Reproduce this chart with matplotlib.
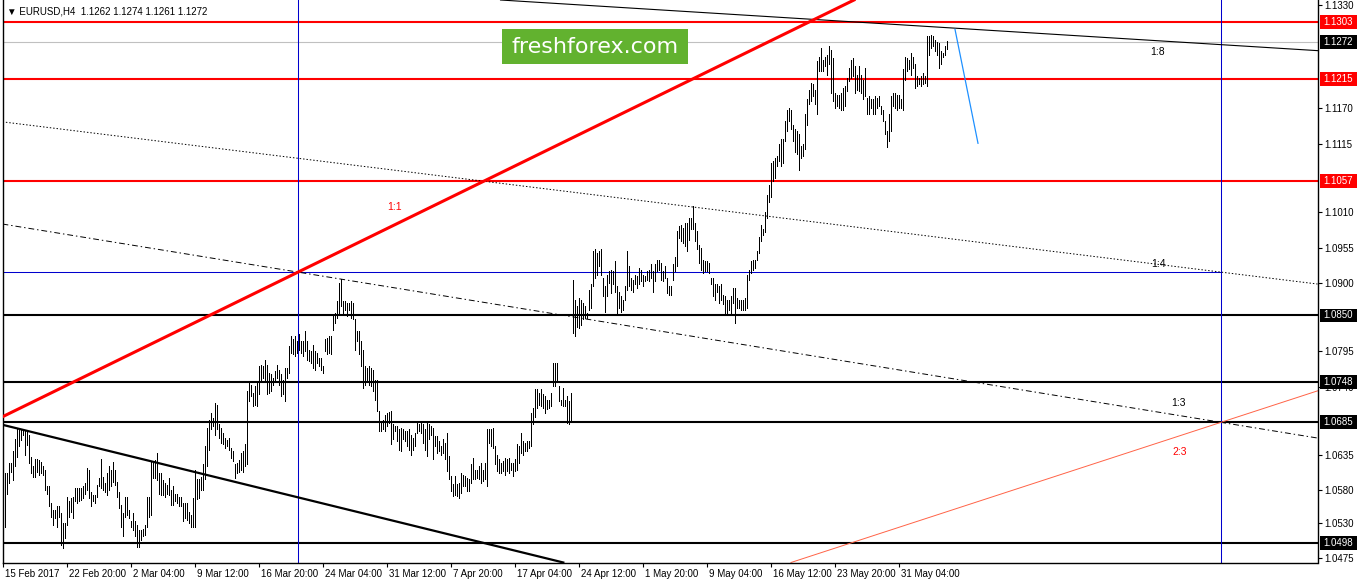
import matplotlib
matplotlib.use("Agg")
import numpy as np
import matplotlib.pyplot as plt
import matplotlib.transforms as mtransforms
from matplotlib.patches import Rectangle

plt.rcParams['font.family'] = ['Liberation Sans', 'DejaVu Sans']

# ─── DATA ─────────────────────────────────────────────────────────────────────
# EURUSD H4 bar highs / lows (one value per bar)
highs = [
    1.0560, 1.0606, 1.0606, 1.0622, 1.0622, 1.0640, 1.0660, 1.0676, 1.0673, 1.0673,
    1.0673, 1.0671, 1.0673, 1.0666, 1.0632, 1.0617, 1.0629, 1.0629, 1.0627, 1.0624,
    1.0617, 1.0611, 1.0586, 1.0586, 1.0560, 1.0550, 1.0550, 1.0555, 1.0555, 1.0545,
    1.0529, 1.0529, 1.0570, 1.0563, 1.0568, 1.0570, 1.0583, 1.0583, 1.0583, 1.0583,
    1.0586, 1.0591, 1.0614, 1.0611, 1.0578, 1.0573, 1.0573, 1.0588, 1.0599, 1.0629,
    1.0601, 1.0591, 1.0606, 1.0617, 1.0611, 1.0624, 1.0611, 1.0593, 1.0578, 1.0557,
    1.0545, 1.0570, 1.0570, 1.0550, 1.0532, 1.0545, 1.0532, 1.0527, 1.0519, 1.0519,
    1.0521, 1.0527, 1.0570, 1.0570, 1.0624, 1.0622, 1.0627, 1.0637, 1.0606, 1.0606,
    1.0596, 1.0591, 1.0588, 1.0599, 1.0581, 1.0586, 1.0575, 1.0575, 1.0570, 1.0570,
    1.0560, 1.0560, 1.0560, 1.0547, 1.0542, 1.0568,
    1.0612, 1.0597, 1.0597, 1.0601, 1.0620, 1.0648, 1.0676, 1.0689, 1.0699, 1.0692,
    1.0715, 1.0712, 1.0682, 1.0676, 1.0669, 1.0661, 1.0658, 1.0661, 1.0645, 1.0640,
    1.0620, 1.0622, 1.0627, 1.0638, 1.0640, 1.0651, 1.0733, 1.0746, 1.0743, 1.0730,
    1.0741, 1.0746, 1.0772, 1.0774, 1.0772, 1.0782, 1.0774, 1.0761, 1.0759, 1.0754,
    1.0764, 1.0774, 1.0766, 1.0759, 1.0751, 1.0769, 1.0769, 1.0803, 1.0818, 1.0813,
    1.0818, 1.0810, 1.0821, 1.0810, 1.0810, 1.0826, 1.0810, 1.0797, 1.0795, 1.0805,
    1.0795, 1.0792, 1.0785, 1.0785, 1.0772, 1.0813, 1.0815, 1.0818, 1.0818, 1.0849,
    1.0854, 1.0872, 1.0900, 1.0906, 1.0872, 1.0872, 1.0870, 1.0870, 1.0872, 1.0870,
    1.0844, 1.0826, 1.0826, 1.0810, 1.0797, 1.0772, 1.0769, 1.0772, 1.0769, 1.0766,
    1.0751, 1.0751, 1.0702, 1.0687, 1.0689,
    1.0697, 1.0700, 1.0701, 1.0702, 1.0682, 1.0679, 1.0679, 1.0674, 1.0676, 1.0674,
    1.0671, 1.0671, 1.0674, 1.0666, 1.0661, 1.0669, 1.0684, 1.0682, 1.0687, 1.0682,
    1.0674, 1.0684, 1.0682, 1.0679, 1.0676, 1.0664, 1.0664, 1.0656, 1.0648, 1.0659,
    1.0653, 1.0669, 1.0633, 1.0602, 1.0589, 1.0602, 1.0589, 1.0592, 1.0607, 1.0604,
    1.0602, 1.0599, 1.0597, 1.0620, 1.0630, 1.0612, 1.0612, 1.0617, 1.0622, 1.0612,
    1.0622, 1.0674, 1.0674, 1.0674, 1.0676, 1.0648, 1.0635, 1.0628, 1.0622, 1.0625,
    1.0630, 1.0628, 1.0630, 1.0622, 1.0622, 1.0628, 1.0651, 1.0648, 1.0669, 1.0656,
    1.0653, 1.0656, 1.0656, 1.0700, 1.0707, 1.0736, 1.0736, 1.0731, 1.0736, 1.0728,
    1.0725, 1.0720, 1.0720, 1.0731, 1.0777, 1.0777, 1.0777, 1.0741, 1.0720, 1.0738,
    1.0720, 1.0725, 1.0718, 1.0731, 1.0905,
    1.0874, 1.0864, 1.0877, 1.0874, 1.0869, 1.0864, 1.0854, 1.0890, 1.0898, 1.0949,
    1.0952, 1.0947, 1.0949, 1.0952, 1.0908, 1.0895, 1.0913, 1.0918, 1.0921, 1.0918,
    1.0934, 1.0895, 1.0887, 1.0880, 1.0874, 1.0895, 1.0949, 1.0926, 1.0908, 1.0905,
    1.0913, 1.0911, 1.0923, 1.0921, 1.0913, 1.0911, 1.0918, 1.0921, 1.0929, 1.0918,
    1.0929, 1.0936, 1.0936, 1.0931, 1.0918, 1.0926, 1.0908, 1.0895, 1.0895, 1.0929,
    1.0941, 1.0980, 1.0988, 1.0990, 1.0985, 1.0993, 1.0993, 1.1001, 1.1001, 1.1019,
    1.0993, 1.0980, 1.0959, 1.0954, 1.0936, 1.0934, 1.0934, 1.0931, 1.0908, 1.0908,
    1.0898, 1.0898, 1.0895, 1.0898, 1.0882, 1.0880, 1.0874, 1.0874, 1.0880, 1.0893,
    1.0893, 1.0877, 1.0874, 1.0874, 1.0874, 1.0877, 1.0913, 1.0921, 1.0934, 1.0936,
    1.0936, 1.0949, 1.0972, 1.0990, 1.0983,
    1.1010, 1.1036, 1.1051, 1.1086, 1.1089, 1.1094, 1.1097, 1.1115, 1.1122, 1.1122,
    1.1150, 1.1168, 1.1170, 1.1168, 1.1145, 1.1138, 1.1135, 1.1130, 1.1112, 1.1115,
    1.1161, 1.1184, 1.1199, 1.1209, 1.1207, 1.1199, 1.1243, 1.1250, 1.1263, 1.1245,
    1.1250, 1.1253, 1.1266, 1.1260, 1.1248, 1.1194, 1.1191, 1.1191, 1.1194, 1.1202,
    1.1204, 1.1217, 1.1232, 1.1245, 1.1248, 1.1235, 1.1222, 1.1235, 1.1222, 1.1214,
    1.1232, 1.1186, 1.1189, 1.1184, 1.1184, 1.1189, 1.1186, 1.1189, 1.1174, 1.1168,
    1.1150, 1.1135, 1.1161, 1.1189, 1.1194, 1.1194, 1.1191, 1.1191, 1.1184, 1.1230,
    1.1250, 1.1248, 1.1245, 1.1255, 1.1250, 1.1238, 1.1220, 1.1217, 1.1220, 1.1225,
    1.1220, 1.1281, 1.1281, 1.1284, 1.1281, 1.1276, 1.1273, 1.1271, 1.1258, 1.1255,
    1.1266, 1.1274,
]
lows = [
    1.0516, 1.0524, 1.0575, 1.0591, 1.0609, 1.0596, 1.0617, 1.0632, 1.0648, 1.0658,
    1.0666, 1.0635, 1.0650, 1.0622, 1.0606, 1.0601, 1.0601, 1.0609, 1.0604, 1.0606,
    1.0604, 1.0581, 1.0575, 1.0555, 1.0539, 1.0527, 1.0537, 1.0524, 1.0539, 1.0496,
    1.0491, 1.0506, 1.0527, 1.0539, 1.0547, 1.0537, 1.0563, 1.0560, 1.0563, 1.0565,
    1.0568, 1.0575, 1.0581, 1.0568, 1.0555, 1.0563, 1.0560, 1.0570, 1.0586, 1.0583,
    1.0581, 1.0578, 1.0573, 1.0581, 1.0586, 1.0593, 1.0588, 1.0570, 1.0552, 1.0524,
    1.0509, 1.0539, 1.0542, 1.0537, 1.0524, 1.0519, 1.0509, 1.0493, 1.0493, 1.0503,
    1.0509, 1.0511, 1.0524, 1.0539, 1.0542, 1.0599, 1.0599, 1.0596, 1.0575, 1.0573,
    1.0573, 1.0570, 1.0575, 1.0573, 1.0557, 1.0557, 1.0563, 1.0560, 1.0555, 1.0555,
    1.0532, 1.0537, 1.0534, 1.0529, 1.0524, 1.0524,
    1.0524, 1.0566, 1.0568, 1.0581, 1.0581, 1.0597, 1.0617, 1.0643, 1.0674, 1.0679,
    1.0666, 1.0674, 1.0661, 1.0653, 1.0651, 1.0645, 1.0648, 1.0643, 1.0630, 1.0625,
    1.0599, 1.0607, 1.0609, 1.0612, 1.0609, 1.0617, 1.0620, 1.0718, 1.0725, 1.0710,
    1.0712, 1.0710, 1.0728, 1.0748, 1.0754, 1.0751, 1.0728, 1.0730, 1.0733, 1.0743,
    1.0748, 1.0754, 1.0743, 1.0725, 1.0728, 1.0718, 1.0754, 1.0761, 1.0792, 1.0790,
    1.0787, 1.0792, 1.0797, 1.0792, 1.0787, 1.0795, 1.0782, 1.0779, 1.0777, 1.0769,
    1.0766, 1.0777, 1.0772, 1.0766, 1.0761, 1.0795, 1.0790, 1.0792, 1.0790, 1.0828,
    1.0839, 1.0846, 1.0851, 1.0864, 1.0854, 1.0859, 1.0849, 1.0859, 1.0846, 1.0844,
    1.0797, 1.0810, 1.0790, 1.0772, 1.0738, 1.0743, 1.0748, 1.0743, 1.0741, 1.0733,
    1.0720, 1.0702, 1.0671, 1.0671, 1.0674,
    1.0671, 1.0679, 1.0684, 1.0651, 1.0659, 1.0671, 1.0656, 1.0643, 1.0640, 1.0659,
    1.0656, 1.0648, 1.0643, 1.0635, 1.0643, 1.0648, 1.0669, 1.0671, 1.0669, 1.0653,
    1.0643, 1.0633, 1.0659, 1.0666, 1.0628, 1.0648, 1.0638, 1.0640, 1.0635, 1.0638,
    1.0628, 1.0610, 1.0597, 1.0579, 1.0571, 1.0573, 1.0571, 1.0568, 1.0576, 1.0586,
    1.0586, 1.0579, 1.0579, 1.0592, 1.0597, 1.0597, 1.0599, 1.0597, 1.0592, 1.0594,
    1.0597, 1.0586, 1.0653, 1.0648, 1.0646, 1.0620, 1.0610, 1.0607, 1.0607, 1.0610,
    1.0604, 1.0610, 1.0607, 1.0612, 1.0602, 1.0610, 1.0612, 1.0622, 1.0638, 1.0635,
    1.0640, 1.0640, 1.0646, 1.0648, 1.0682, 1.0694, 1.0707, 1.0712, 1.0710, 1.0707,
    1.0700, 1.0705, 1.0707, 1.0710, 1.0741, 1.0741, 1.0749, 1.0718, 1.0712, 1.0710,
    1.0710, 1.0684, 1.0682, 1.0687, 1.0823,
    1.0818, 1.0833, 1.0831, 1.0836, 1.0844, 1.0846, 1.0846, 1.0859, 1.0862, 1.0895,
    1.0908, 1.0913, 1.0926, 1.0913, 1.0880, 1.0856, 1.0880, 1.0900, 1.0885, 1.0898,
    1.0887, 1.0851, 1.0862, 1.0856, 1.0859, 1.0874, 1.0890, 1.0895, 1.0890, 1.0887,
    1.0898, 1.0893, 1.0898, 1.0903, 1.0895, 1.0903, 1.0905, 1.0903, 1.0908, 1.0887,
    1.0903, 1.0918, 1.0921, 1.0905, 1.0903, 1.0908, 1.0885, 1.0882, 1.0882, 1.0905,
    1.0918, 1.0926, 1.0970, 1.0965, 1.0962, 1.0957, 1.0949, 1.0967, 1.0983, 1.0983,
    1.0965, 1.0952, 1.0931, 1.0921, 1.0916, 1.0918, 1.0918, 1.0916, 1.0898, 1.0880,
    1.0874, 1.0887, 1.0869, 1.0874, 1.0867, 1.0854, 1.0851, 1.0859, 1.0854, 1.0869,
    1.0838, 1.0862, 1.0862, 1.0859, 1.0859, 1.0859, 1.0862, 1.0905, 1.0916, 1.0921,
    1.0923, 1.0936, 1.0947, 1.0965, 1.0975,
    1.0979, 1.1001, 1.1025, 1.1033, 1.1058, 1.1063, 1.1081, 1.1089, 1.1081, 1.1086,
    1.1120, 1.1135, 1.1150, 1.1138, 1.1120, 1.1102, 1.1099, 1.1074, 1.1094, 1.1097,
    1.1107, 1.1145, 1.1176, 1.1181, 1.1189, 1.1176, 1.1161, 1.1227, 1.1227, 1.1227,
    1.1235, 1.1222, 1.1238, 1.1194, 1.1181, 1.1171, 1.1174, 1.1171, 1.1168, 1.1168,
    1.1174, 1.1197, 1.1212, 1.1217, 1.1220, 1.1194, 1.1199, 1.1197, 1.1194, 1.1184,
    1.1189, 1.1161, 1.1161, 1.1171, 1.1161, 1.1161, 1.1171, 1.1174, 1.1161, 1.1150,
    1.1130, 1.1110, 1.1120, 1.1135, 1.1174, 1.1171, 1.1168, 1.1171, 1.1171, 1.1168,
    1.1214, 1.1227, 1.1230, 1.1222, 1.1232, 1.1202, 1.1204, 1.1207, 1.1204, 1.1207,
    1.1209, 1.1204, 1.1253, 1.1263, 1.1266, 1.1258, 1.1253, 1.1232, 1.1238, 1.1250,
    1.1253, 1.1261,
]

time_ticks = [0, 32, 64, 96, 128, 160, 192, 224, 256, 288, 320, 352, 384, 416, 448]
time_labels = ["15 Feb 2017", "22 Feb 20:00", "2 Mar 04:00", "9 Mar 12:00",
               "16 Mar 20:00", "24 Mar 04:00", "31 Mar 12:00", "7 Apr 20:00",
               "17 Apr 04:00", "24 Apr 12:00", "1 May 20:00", "9 May 04:00",
               "16 May 12:00", "23 May 20:00", "31 May 04:00"]

price_ticks = [1.1330, 1.1170, 1.1115, 1.1010, 1.0955, 1.0900, 1.0795,
               1.0740, 1.0635, 1.0580, 1.0530, 1.0475]

red_levels = [1.1303, 1.1215, 1.1057]
black_levels = [1.0850, 1.0748, 1.0685, 1.0498]
bid_price = 1.1272
blue_level = 1.0917
vlines_at = [147.5, 609]

# trend lines: two (bar, price) anchors each
line_11 = [(0, 1.0694), (147.5, 1.0917)]
line_13 = [(147.5, 1.0917), (609, 1.0685)]
line_14 = [(0, 1.1149), (609, 1.0917)]
line_18 = [(266, 1.1334), (652.5, 1.1260)]
line_down = [(0, 1.0681), (279.5, 1.0469)]
line_23 = [(393.5, 1.0468), (609, 1.0685)]
forecast = [(476, 1.1292), (487.5, 1.1116)]

ratio_labels = [("1:1", 196, 1.1018, '#ff0000'),
                ("1:8", 577.5, 1.1257, 'black'),
                ("1:4", 577.5, 1.0930, 'black'),
                ("1:3", 587.5, 1.0715, 'black'),
                ("2:3", 588.5, 1.0639, '#ff0000')]

header = "\u25BC EURUSD,H4  1.1262 1.1274 1.1261 1.1272"

# ─── FIGURE ───────────────────────────────────────────────────────────────────
W, H = 1358, 584
fig = plt.figure(figsize=(W / 100, H / 100), dpi=100)
left_px, right_px, bottom_px = 2.5, 1317.5, 562.5
ax = fig.add_axes([left_px / W, (H - bottom_px) / H,
                   (right_px - left_px) / W, bottom_px / H])
ax.set_xlim(-0.25, -0.25 + (right_px - left_px) / 2)
ax.set_ylim(1.04685, 1.13373)

x = np.arange(len(highs))
ax.vlines(x, lows, highs, colors='black', linewidth=0.5,
          antialiased=False, zorder=3)

# horizontal levels
for lv in red_levels:
    ax.axhline(lv, color='#ff0000', linewidth=1.5, zorder=2)
for lv in black_levels:
    ax.axhline(lv, color='black', linewidth=1.5, zorder=2)
ax.axhline(bid_price, color='#c0c0c0', linewidth=0.8, zorder=1)
ax.hlines(blue_level, -0.25, vlines_at[1], color='#0000cd', linewidth=0.75, zorder=2)
for v in vlines_at:
    ax.axvline(v, color='#0000cd', linewidth=0.75, zorder=2)

# trend lines
ax.axline(line_11[0], line_11[1], color='#ff0000', linewidth=2.2, zorder=4)
ax.axline(line_13[0], line_13[1], color='black', linewidth=0.7,
          linestyle=(0, (6, 3, 1.5, 3)), zorder=2)
ax.axline(line_14[0], line_14[1], color='black', linewidth=0.7,
          linestyle=(0, (1.5, 2)), zorder=2)
ax.axline(line_18[0], line_18[1], color='black', linewidth=0.8, zorder=2)
ax.axline(line_down[0], line_down[1], color='black', linewidth=1.6, zorder=4)
ax.axline(line_23[0], line_23[1], color='#ff6347', linewidth=0.7, zorder=2)
ax.plot([p[0] for p in forecast], [p[1] for p in forecast],
        color='#1e90ff', linewidth=0.9, zorder=4)

for txt, bx, by, col in ratio_labels:
    ax.text(bx, by, txt, color=col, fontsize=7.5, ha='center', va='center', zorder=5)

# axes styling
for side in ['left', 'bottom', 'right']:
    ax.spines[side].set_color('black')
    ax.spines[side].set_linewidth(1.0)
ax.spines['top'].set_visible(False)

ax.yaxis.tick_right()
ax.set_yticks(price_ticks)
ax.set_yticklabels([f"{p:.4f}" for p in price_ticks])
ax.tick_params(axis='y', length=3, width=0.8, pad=2, labelsize=7, direction='out')

ax.set_xticks(time_ticks)
ax.set_xticklabels(time_labels, ha='left')
ax.tick_params(axis='x', length=3, width=0.8, pad=2, labelsize=7, direction='out')
for lbl in ax.get_xticklabels():
    lbl.set_transform(lbl.get_transform() +
                      mtransforms.ScaledTranslation(2 / 100, 0, fig.dpi_scale_trans))

# price boxes on the right scale
blend = mtransforms.blended_transform_factory(ax.transAxes, ax.transData)
box_x0 = (1320 - left_px) / (right_px - left_px)
box_w = 37 / (right_px - left_px)
box_h = 14 / 6475
boxes = [(lv, '#ff0000') for lv in red_levels] + [(bid_price, 'black')] + \
        [(lv, 'black') for lv in black_levels]
for lv, col in boxes:
    ax.add_patch(Rectangle((box_x0, lv - box_h / 2), box_w, box_h, transform=blend,
                           facecolor=col, edgecolor='none', clip_on=False, zorder=10))
    ax.text(box_x0 + 3 / (right_px - left_px), lv, f"{lv:.4f}", transform=blend,
            color='white', fontsize=7, ha='left', va='center', zorder=11, clip_on=False)

# header and watermark
fig.text(7 / W, 1 - 11 / H, header, fontsize=7, ha='left', va='center', color='black')
fig.patches.append(Rectangle((502 / W, 1 - 64 / H), 186 / W, 35 / H,
                             transform=fig.transFigure, facecolor='#62b22f',
                             edgecolor='none', zorder=20))
fig.text(595 / W, 1 - 47 / H, "freshforex.com", fontsize=16, color='white',
         ha='center', va='center', family=['DejaVu Sans'], zorder=21)

fig.savefig('out.png', dpi=100)
